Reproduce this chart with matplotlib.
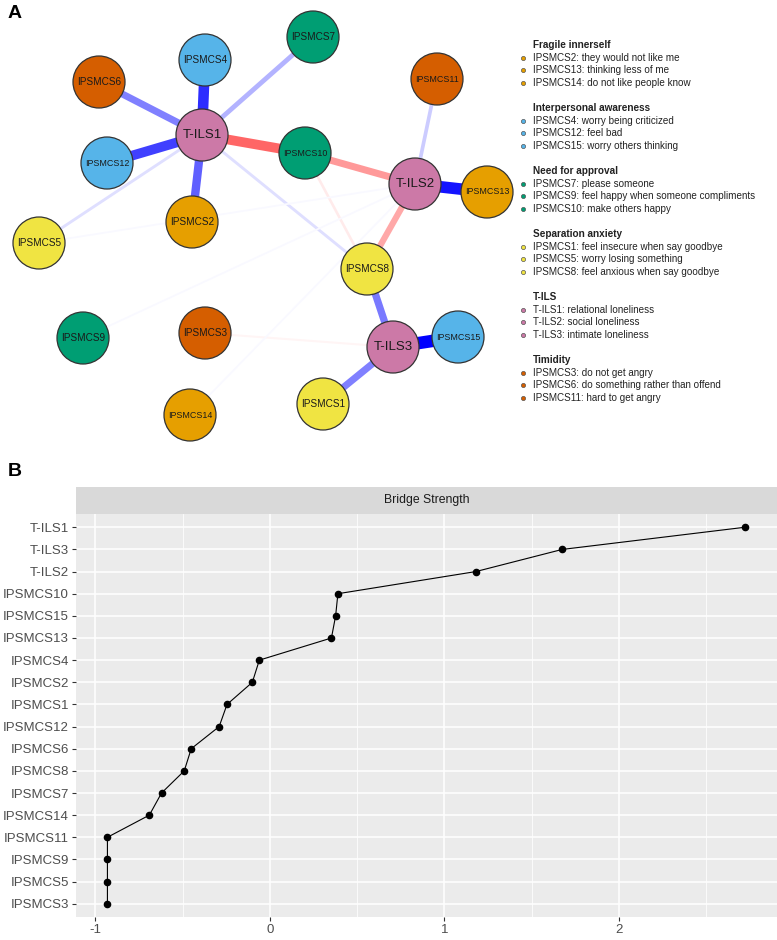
import numpy as np
import matplotlib.pyplot as plt
from matplotlib.patches import Circle, Rectangle

plt.rcParams['font.family'] = ['Liberation Sans', 'DejaVu Sans']
plt.rcParams['axes.unicode_minus'] = False

# ---- data: network ----
groups = ["Fragile innerself", "Interpersonal awareness", "Need for approval",
          "Separation anxiety", "T-ILS", "Timidity"]
group_colors = ["#E69F00", "#56B4E9", "#009E73", "#F0E442", "#CC79A7", "#D55E00"]
group_items = [
    ["IPSMCS2: they would not like me", "IPSMCS13: thinking less of me", "IPSMCS14: do not like people know"],
    ["IPSMCS4: worry being criticized", "IPSMCS12: feel bad", "IPSMCS15: worry others thinking"],
    ["IPSMCS7: please someone", "IPSMCS9: feel happy when someone compliments", "IPSMCS10: make others happy"],
    ["IPSMCS1: feel insecure when say goodbye", "IPSMCS5: worry losing something", "IPSMCS8: feel anxious when say goodbye"],
    ["T-ILS1: relational loneliness", "T-ILS2: social loneliness", "T-ILS3: intimate loneliness"],
    ["IPSMCS3: do not get angry", "IPSMCS6: do something rather than offend", "IPSMCS11: hard to get angry"],
]
node_group = {"IPSMCS2": 0, "IPSMCS13": 0, "IPSMCS14": 0,
              "IPSMCS4": 1, "IPSMCS12": 1, "IPSMCS15": 1,
              "IPSMCS7": 2, "IPSMCS9": 2, "IPSMCS10": 2,
              "IPSMCS1": 3, "IPSMCS5": 3, "IPSMCS8": 3,
              "T-ILS1": 4, "T-ILS2": 4, "T-ILS3": 4,
              "IPSMCS3": 5, "IPSMCS6": 5, "IPSMCS11": 5}

# edge weights (positive = blue, negative = red)
edges = [("T-ILS3", "IPSMCS15", 0.40), ("T-ILS2", "IPSMCS13", 0.37),
         ("T-ILS1", "IPSMCS4", 0.33), ("T-ILS1", "IPSMCS12", 0.30),
         ("T-ILS1", "IPSMCS10", -0.30), ("T-ILS1", "IPSMCS2", 0.25),
         ("T-ILS3", "IPSMCS1", 0.20), ("T-ILS1", "IPSMCS6", 0.20),
         ("T-ILS3", "IPSMCS8", 0.21), ("IPSMCS10", "T-ILS2", -0.20),
         ("T-ILS2", "IPSMCS8", -0.17), ("T-ILS1", "IPSMCS7", 0.12),
         ("T-ILS2", "IPSMCS11", 0.08), ("T-ILS1", "IPSMCS5", 0.05),
         ("T-ILS1", "IPSMCS8", 0.05), ("IPSMCS10", "IPSMCS8", -0.04),
         ("T-ILS3", "IPSMCS3", -0.02), ("T-ILS2", "IPSMCS14", 0.01),
         ("T-ILS2", "IPSMCS9", 0.01), ("T-ILS2", "IPSMCS5", 0.01)]

# layout (pixel space of the figure)
layout = {"T-ILS1": (202, 135), "T-ILS2": (415, 184), "T-ILS3": (393, 347),
          "IPSMCS1": (323, 404), "IPSMCS2": (192, 222), "IPSMCS3": (205, 333),
          "IPSMCS4": (205, 60), "IPSMCS5": (39, 243), "IPSMCS6": (99, 82),
          "IPSMCS7": (313, 37), "IPSMCS8": (367, 269), "IPSMCS9": (83, 338),
          "IPSMCS10": (305, 153), "IPSMCS11": (437, 79), "IPSMCS12": (107, 163),
          "IPSMCS13": (487, 192), "IPSMCS14": (190, 415), "IPSMCS15": (458, 337)}

# ---- data: bridge strength ----
bs_nodes = ["T-ILS1", "T-ILS3", "T-ILS2", "IPSMCS10", "IPSMCS15", "IPSMCS13",
            "IPSMCS4", "IPSMCS2", "IPSMCS1", "IPSMCS12", "IPSMCS6", "IPSMCS8",
            "IPSMCS7", "IPSMCS14", "IPSMCS11", "IPSMCS9", "IPSMCS5", "IPSMCS3"]
bs_values = [2.72, 1.675, 1.18, 0.39, 0.377, 0.353, -0.06, -0.10, -0.245, -0.29,
             -0.45, -0.49, -0.62, -0.69, -0.93, -0.93, -0.93, -0.93]

W, H = 777, 940
fig = plt.figure(figsize=(W / 100, H / 100), dpi=100)

# ---- panel A ----
ax = fig.add_axes([0, 0, 1, 1])
ax.set_xlim(0, W)
ax.set_ylim(H, 0)
ax.axis("off")

wmax = max(abs(e[2]) for e in edges)
for a, b, w in edges:
    frac = abs(w) / wmax
    base = np.array([0, 0, 1.0]) if w > 0 else np.array([1.0, 0.2, 0.2])
    col = (1 - frac) * np.ones(3) + frac * base
    lw = (1.5 + 11 * frac) * 0.72
    (x1, y1), (x2, y2) = layout[a], layout[b]
    ax.plot([x1, x2], [y1, y2], color=col, lw=lw, solid_capstyle="butt", zorder=1)

for name, (x, y) in layout.items():
    ax.add_patch(Circle((x, y), 26, facecolor=group_colors[node_group[name]],
                        edgecolor="#333333", lw=0.9, zorder=3))
    if name.startswith("T-ILS"):
        fs = 9.5
    elif len(name) == 7:
        fs = 7.2
    else:
        fs = 6.4
    ax.text(x, y, name, ha="center", va="center", fontsize=fs, color="#1A1A1A", zorder=4)

# legend
ly = 45
for g, col, items in zip(groups, group_colors, group_items):
    ax.text(533, ly, g, fontsize=7.2, fontweight="bold", color="#222222", va="center")
    for i, it in enumerate(items):
        yy = ly + 12.7 * (i + 1)
        ax.scatter([523], [yy], s=9, color=col, edgecolor="#555555", linewidth=0.5, zorder=3)
        ax.text(533, yy, it, fontsize=7.1, color="#222222", va="center")
    ly += 63

ax.text(8, 14, "A", fontsize=14, fontweight="bold", va="center")
ax.text(8, 472, "B", fontsize=14, fontweight="bold", va="center")

# ---- panel B ----
left, right, top, bot, strip_top = 76, 777, 514, 917, 487
axb = fig.add_axes([left / W, 1 - bot / H, (right - left) / W, (bot - top) / H])
axs = fig.add_axes([left / W, 1 - top / H, (right - left) / W, (top - strip_top) / H])

ypos = np.arange(len(bs_nodes), 0, -1)
axb.set_facecolor("#EBEBEB")
axb.set_xlim(-1.11, 2.905)
axb.set_ylim(0.4, len(bs_nodes) + 0.6)
axb.set_xticks([-1, 0, 1, 2])
axb.set_xticks([-0.5, 0.5, 1.5, 2.5], minor=True)
axb.set_yticks(ypos)
axb.set_yticklabels(bs_nodes)
axb.grid(True, which="major", color="white", lw=1.1)
axb.grid(True, which="minor", axis="x", color="white", lw=0.55)
axb.set_axisbelow(True)
for s in axb.spines.values():
    s.set_visible(False)
axb.tick_params(axis="both", which="major", length=3, width=0.8, color="#333333",
                labelsize=9.5, labelcolor="#4D4D4D", pad=2)
axb.tick_params(axis="x", which="minor", length=0)
axb.plot(bs_values, ypos, color="black", lw=0.8, zorder=3)
axb.scatter(bs_values, ypos, s=20, color="black", zorder=4)

axs.set_xlim(0, 1)
axs.set_ylim(0, 1)
axs.axis("off")
axs.add_patch(Rectangle((0, 0), 1, 1, facecolor="#D9D9D9", edgecolor="none"))
axs.text(0.5, 0.5, "Bridge Strength", ha="center", va="center", fontsize=8.8, color="#1A1A1A")

fig.savefig("out.png", dpi=100)
